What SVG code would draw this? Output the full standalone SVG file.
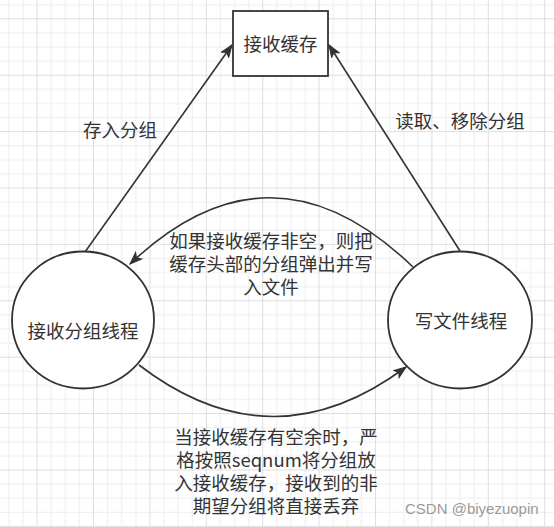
<svg xmlns="http://www.w3.org/2000/svg" width="554" height="527" viewBox="0 0 554 527">
  <defs>
    <pattern id="grid" patternUnits="userSpaceOnUse" x="-19.8" y="-38.1" width="56.4" height="56.4">
      <rect x="14.1" y="0" width="1" height="56.4" fill="#ededed"/>
      <rect x="28.2" y="0" width="1" height="56.4" fill="#ededed"/>
      <rect x="42.3" y="0" width="1" height="56.4" fill="#ededed"/>
      <rect x="0" y="14.1" width="56.4" height="1" fill="#ededed"/>
      <rect x="0" y="28.2" width="56.4" height="1" fill="#ededed"/>
      <rect x="0" y="42.3" width="56.4" height="1" fill="#ededed"/>
      <rect x="0" y="0" width="1" height="56.4" fill="#dedede"/>
      <rect x="0" y="0" width="56.4" height="1" fill="#dedede"/>
    </pattern>
    <marker id="arrow" markerUnits="userSpaceOnUse" markerWidth="14" markerHeight="12" refX="13" refY="5" orient="auto">
      <path d="M1,0.5 L13,5 L1,9.5 L4,5 Z" fill="#333" stroke="#333" stroke-width="1"/>
    </marker>
  </defs>
  <style>
    .shape { fill: #ffffff; stroke: #333333; stroke-width: 1.8; }
    .edge { fill: none; stroke: #333333; stroke-width: 1.6; }
    .t { font-family: "Noto Sans CJK SC", "Noto Sans", sans-serif; font-size: 18.5px; fill: #333333; text-anchor: middle; }
    .wm { font-family: "Liberation Sans", Arial, sans-serif; font-size: 15px; fill: #9a9a9a; }
  </style>
  <rect x="0" y="0" width="554" height="527" fill="#ffffff"/>
  <rect x="0" y="0" width="554" height="527" fill="url(#grid)"/>

  <g id="connectors">
    <line class="edge" x1="85" y1="252" x2="232" y2="45" marker-end="url(#arrow)"/>
    <line class="edge" x1="460" y1="251" x2="329" y2="45" marker-end="url(#arrow)"/>
    <path class="edge" d="M413,267 Q271,130 130,264" marker-end="url(#arrow)"/>
    <path class="edge" d="M139,365 Q272,467 406,367" marker-end="url(#arrow)"/>
  </g>

  <g id="node-buffer">
    <rect class="shape" x="233" y="11" width="95" height="65"/>
    <text class="t" x="280.5" y="51">接收缓存</text>
  </g>

  <g id="node-receiver">
    <ellipse class="shape" cx="83" cy="320" rx="71" ry="68.5"/>
    <text class="t" x="83" y="338">接收分组线程</text>
  </g>

  <g id="node-writer">
    <ellipse class="shape" cx="460" cy="320" rx="72" ry="68.5"/>
    <text class="t" x="461" y="328">写文件线程</text>
  </g>

  <g id="labels">
    <text class="t" x="120" y="137">存入分组</text>
    <text class="t" x="460" y="128">读取、移除分组</text>
    <text class="t" x="271" y="248">如果接收缓存非空，则把</text>
    <text class="t" x="271" y="271">缓存头部的分组弹出并写</text>
    <text class="t" x="271" y="294">入文件</text>
    <text class="t" x="276" y="443.5">当接收缓存有空余时，严</text>
    <text class="t" x="276" y="466.5">格按照seqnum将分组放</text>
    <text class="t" x="276" y="489.5">入接收缓存，接收到的非</text>
    <text class="t" x="276" y="512.5">期望分组将直接丢弃</text>
  </g>

  <text class="wm" x="405" y="514">CSDN @biyezuopin</text>
</svg>
